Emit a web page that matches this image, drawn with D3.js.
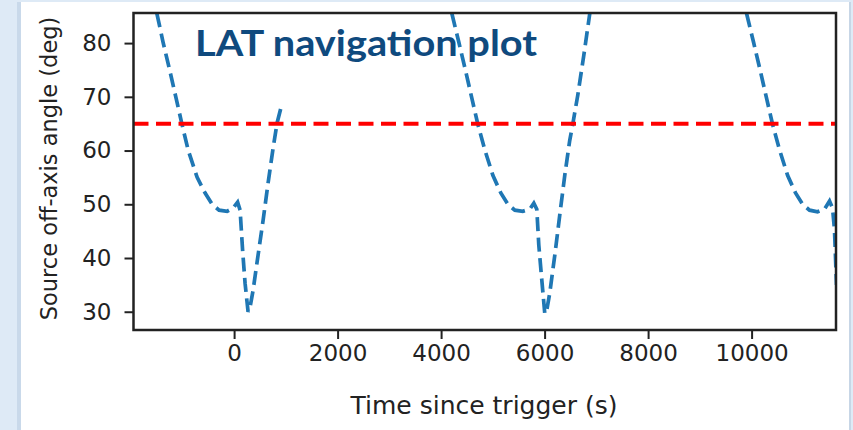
<!DOCTYPE html>
<html>
<head>
<meta charset="utf-8">
<script src="https://cdn.jsdelivr.net/npm/d3@7"></script>
<style>
  html, body { margin: 0; padding: 0; background: #deeaf6; }
  svg { display: block; }
</style>
</head>
<body>
<svg id="chart" width="853" height="430"></svg>
<script>
// Source off-axis angle along the LAT pointing history, split where the data has gaps
const seg1Time  = [-1492, -1371, -1236, -1120, -1010, -888, -714, -560, -425, -290, -135, -19, 68, 116, 164, 212, 270, 309, 367, 463, 560, 656, 753, 830, 927];
const seg1Angle = [85.5, 80.1, 74.6, 69.7, 65.0, 60.1, 55.0, 52.1, 50.0, 48.9, 48.7, 49.3, 50.4, 48.9, 41.5, 35.3, 30.0, 30.9, 34.0, 40.5, 47.0, 53.9, 60.4, 65.1, 68.8];

const seg2Time  = [4208, 4344, 4479, 4595, 4710, 4846, 5000, 5154, 5290, 5425, 5579, 5714, 5792, 5849, 5888, 5946, 6004, 6042, 6100, 6197, 6293, 6390, 6486, 6544, 6641, 6757, 6873];
const seg2Angle = [85.5, 80.1, 74.6, 69.7, 64.9, 60.1, 55.4, 52.1, 50.0, 48.9, 48.7, 49.1, 50.2, 49.1, 42.4, 35.9, 29.6, 30.3, 33.5, 40.5, 48.0, 55.4, 61.9, 64.9, 70.3, 77.7, 85.5];

const seg3Time  = [9903, 10039, 10174, 10290, 10405, 10541, 10695, 10849, 10985, 11120, 11274, 11409, 11506, 11564, 11602, 11641];
const seg3Angle = [85.5, 80.1, 74.6, 69.7, 64.9, 60.1, 55.4, 52.1, 50.0, 48.9, 48.6, 49.1, 50.6, 49.3, 45.2, 35.0];

const thresholdAngle = 65;
const xTicks = [0, 2000, 4000, 6000, 8000, 10000];
const yTicks = [30, 40, 50, 60, 70, 80];
const xDomain = [-1944, 11631];
const yDomain = [26.6, 85.6];

const titleText = "LAT navigation plot";
const xLabel = "Time since trigger (s)";
const yLabel = "Source off-axis angle (deg)";

const svg = d3.select("#chart");

// white slide panel with a soft left shadow
svg.append("rect").attr("x", 0).attr("y", 0).attr("width", 853).attr("height", 430).attr("fill", "#deeaf6");
svg.append("rect").attr("x", 17).attr("y", 2).attr("width", 4).attr("height", 428).attr("fill", "#c9d9ea");
svg.append("rect").attr("x", 849).attr("y", 2).attr("width", 2).attr("height", 428).attr("fill", "#c7d6e6");
svg.append("rect").attr("x", 21).attr("y", 2).attr("width", 828).attr("height", 428).attr("fill", "#ffffff");

const plot = { left: 133.5, right: 836, top: 13, bottom: 330 };

const x = d3.scaleLinear().domain(xDomain).range([plot.left, plot.right]);
const y = d3.scaleLinear().domain(yDomain).range([plot.bottom, plot.top]);

svg.append("clipPath").attr("id", "plotClip")
  .append("rect")
  .attr("x", plot.left).attr("y", plot.top)
  .attr("width", plot.right - plot.left).attr("height", plot.bottom - plot.top);

const line = d3.line().x(d => x(d[0])).y(d => y(d[1]));

const segments = [
  d3.zip(seg1Time, seg1Angle),
  d3.zip(seg2Time, seg2Angle),
  d3.zip(seg3Time, seg3Angle)
];

const g = svg.append("g").attr("clip-path", "url(#plotClip)");

g.selectAll("path.angle").data(segments).join("path")
  .attr("class", "angle")
  .attr("d", line)
  .attr("fill", "none")
  .attr("stroke", "#1f77b4")
  .attr("stroke-width", 3.7)
  .attr("stroke-dasharray", "14,6.5");

// 65 deg field-of-view threshold
g.append("line")
  .attr("x1", plot.left).attr("x2", plot.right)
  .attr("y1", y(thresholdAngle)).attr("y2", y(thresholdAngle))
  .attr("stroke", "#ff0000")
  .attr("stroke-width", 4)
  .attr("stroke-dasharray", "15,7.5");

// axes
const tickFont = "'DejaVu Sans', sans-serif";
const xAxis = d3.axisBottom(x).tickValues(xTicks).tickSize(9).tickPadding(6).tickFormat(d3.format("d"));
const yAxis = d3.axisLeft(y).tickValues(yTicks).tickSize(9).tickPadding(13).tickFormat(d3.format("d"));

const gx = svg.append("g").attr("transform", `translate(0,${plot.bottom})`).call(xAxis);
const gy = svg.append("g").attr("transform", `translate(${plot.left},0)`).call(yAxis);
[gx, gy].forEach(a => {
  a.select(".domain").remove();
  a.selectAll(".tick line").attr("stroke", "#222").attr("stroke-width", 2);
  a.selectAll(".tick text").attr("fill", "#222").style("font-family", tickFont).style("font-size", "23px");
});

// frame
svg.append("rect")
  .attr("x", plot.left).attr("y", plot.top)
  .attr("width", plot.right - plot.left).attr("height", plot.bottom - plot.top)
  .attr("fill", "none").attr("stroke", "#222").attr("stroke-width", 2.5);

svg.append("text")
  .attr("x", 484).attr("y", 414)
  .attr("text-anchor", "middle")
  .attr("fill", "#222")
  .style("font-family", tickFont).style("font-size", "25px")
  .text(xLabel);

svg.append("text")
  .attr("transform", `translate(57,${(plot.top + plot.bottom) / 2 - 3}) rotate(-90)`)
  .attr("text-anchor", "middle")
  .attr("fill", "#222")
  .style("font-family", tickFont).style("font-size", "22.5px")
  .text(yLabel);

svg.append("text")
  .attr("x", 195).attr("y", 56)
  .attr("fill", "#0f4a7e")
  .style("font-family", "Lato, sans-serif").style("font-weight", "bold").style("font-size", "36px")
  .attr("textLength", 342).attr("lengthAdjust", "spacingAndGlyphs")
  .text(titleText);
</script>
</body>
</html>
